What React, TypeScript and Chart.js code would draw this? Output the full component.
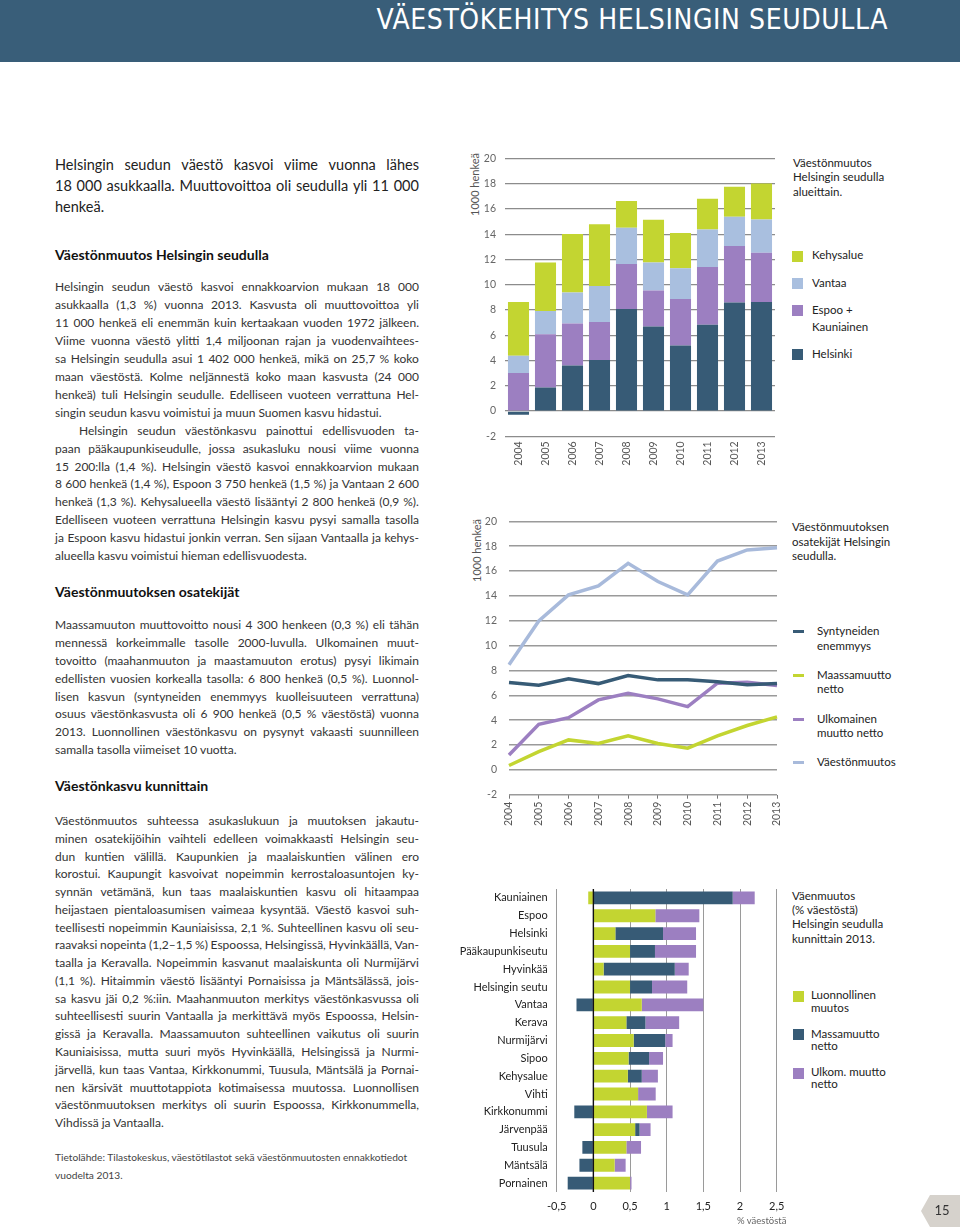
import React, { useEffect, useRef } from 'react';
import { Chart, registerables } from 'chart.js';

Chart.register(...registerables);

const FONT = 'Lato, "Open Sans", sans-serif';
const DARK = '#375b76';
const PURPLE = '#9c7fc1';
const LIGHTBLUE = '#a9bfdf';
const GREEN = '#c3d531';
const LINE_BLUE = '#a8badb';

// ---- Chart 1: Väestönmuutos Helsingin seudulla alueittain (1000 henkeä)
const years = ['2004', '2005', '2006', '2007', '2008', '2009', '2010', '2011', '2012', '2013'];
const helsinki = [-0.3, 1.87, 3.6, 4.03, 8.08, 6.68, 5.18, 6.82, 8.58, 8.63];
const espooKauniainen = [3.0, 4.21, 3.32, 3.02, 3.55, 2.85, 3.69, 4.57, 4.47, 3.9];
const vantaa = [1.37, 1.84, 2.45, 2.84, 2.87, 2.23, 2.42, 2.98, 2.32, 2.63];
const kehysalue = [4.26, 3.84, 4.63, 4.9, 2.13, 3.37, 2.79, 2.42, 2.37, 2.84];
const yTicks1 = { min: -2, max: 20, step: 2 };

// ---- Chart 2: Väestönmuutoksen osatekijät (1000 henkeä)
const syntyneidenEnemmyys = [7.02, 6.81, 7.32, 6.94, 7.59, 7.24, 7.24, 7.08, 6.84, 6.94];
const maassamuuttoNetto = [0.35, 1.47, 2.41, 2.12, 2.73, 2.12, 1.74, 2.73, 3.57, 4.26];
const ulkomainenMuuttoNetto = [1.2, 3.67, 4.2, 5.63, 6.17, 5.71, 5.09, 6.97, 7.05, 6.78];
const vaestonmuutos = [8.45, 11.98, 14.08, 14.8, 16.62, 15.15, 14.08, 16.8, 17.7, 17.88];

// ---- Chart 3: Väenmuutos (% väestöstä) kunnittain 2013
const municipalities = [
  'Kauniainen', 'Espoo', 'Helsinki', 'Pääkaupunkiseutu', 'Hyvinkää', 'Helsingin seutu',
  'Vantaa', 'Kerava', 'Nurmijärvi', 'Sipoo', 'Kehysalue', 'Vihti', 'Kirkkonummi',
  'Järvenpää', 'Tuusula', 'Mäntsälä', 'Pornainen',
];
const luonnollinenMuutos = [-0.07, 0.845, 0.3, 0.5, 0.14, 0.5, 0.66, 0.45, 0.55, 0.48, 0.47, 0.61, 0.73, 0.57, 0.45, 0.29, 0.5];
const massamuuttoNetto = [1.9, 0, 0.65, 0.34, 0.97, 0.3, -0.23, 0.26, 0.43, 0.28, 0.19, 0, -0.26, 0.06, -0.15, -0.19, -0.35];
const ulkomMuuttoNetto = [0.3, 0.6, 0.45, 0.56, 0.19, 0.48, 0.84, 0.46, 0.1, 0.19, 0.22, 0.24, 0.35, 0.15, 0.2, 0.15, 0.02];
const xTicks3 = { min: -0.5, max: 2.5, step: 0.5 };

// ---- Texts
type TLine = { t: string; j?: boolean; indent?: number };
const introLines: TLine[] = [
  { t: 'Helsingin seudun väestö kasvoi viime vuonna lähes', j: true },
  { t: '18 000 asukkaalla. Muuttovoittoa oli seudulla yli 11 000', j: true },
  { t: 'henkeä.' },
];
const para1Lines: TLine[] = [
  { t: 'Helsingin seudun väestö kasvoi ennakkoarvion mukaan 18 000', j: true },
  { t: 'asukkaalla (1,3 %) vuonna 2013. Kasvusta oli muuttovoittoa yli', j: true },
  { t: '11 000 henkeä eli enemmän kuin kertaakaan vuoden 1972 jälkeen.', j: true },
  { t: 'Viime vuonna väestö ylitti 1,4 miljoonan rajan ja vuodenvaihtees-', j: true },
  { t: 'sa Helsingin seudulla asui 1 402 000 henkeä, mikä on 25,7 % koko', j: true },
  { t: 'maan väestöstä.  Kolme neljännestä koko maan kasvusta (24 000', j: true },
  { t: 'henkeä) tuli Helsingin seudulle.  Edelliseen vuoteen verrattuna Hel-', j: true },
  { t: 'singin seudun kasvu voimistui ja muun Suomen kasvu hidastui.' },
  { t: 'Helsingin seudun väestönkasvu painottui edellisvuoden ta-', j: true, indent: 24 },
  { t: 'paan pääkaupunkiseudulle, jossa asukasluku nousi viime vuonna', j: true },
  { t: '15 200:lla (1,4 %). Helsingin väestö kasvoi ennakkoarvion mukaan', j: true },
  { t: '8 600 henkeä (1,4 %), Espoon 3 750 henkeä (1,5 %) ja Vantaan 2 600', j: true },
  { t: 'henkeä (1,3 %).  Kehysalueella väestö lisääntyi 2 800 henkeä (0,9 %).', j: true },
  { t: 'Edelliseen vuoteen verrattuna Helsingin kasvu pysyi samalla tasolla', j: true },
  { t: 'ja Espoon kasvu hidastui jonkin verran. Sen sijaan Vantaalla ja kehys-', j: true },
  { t: 'alueella kasvu voimistui hieman edellisvuodesta.' },
];
const para2Lines: TLine[] = [
  { t: 'Maassamuuton muuttovoitto nousi 4 300 henkeen (0,3 %) eli tähän', j: true },
  { t: 'mennessä korkeimmalle tasolle 2000-luvulla.  Ulkomainen muut-', j: true },
  { t: 'tovoitto (maahanmuuton ja maastamuuton erotus) pysyi likimain', j: true },
  { t: 'edellisten vuosien korkealla tasolla: 6 800 henkeä (0,5 %). Luonnol-', j: true },
  { t: 'lisen kasvun (syntyneiden enemmyys kuolleisuuteen verrattuna)', j: true },
  { t: 'osuus väestönkasvusta oli 6 900 henkeä (0,5 % väestöstä) vuonna', j: true },
  { t: '2013. Luonnollinen väestönkasvu on pysynyt vakaasti suunnilleen', j: true },
  { t: 'samalla tasolla viimeiset 10 vuotta.' },
];
const para3Lines: TLine[] = [
  { t: 'Väestönmuutos suhteessa asukaslukuun ja muutoksen jakautu-', j: true },
  { t: 'minen osatekijöihin vaihteli edelleen voimakkaasti Helsingin seu-', j: true },
  { t: 'dun kuntien välillä. Kaupunkien ja maalaiskuntien välinen ero', j: true },
  { t: 'korostui. Kaupungit kasvoivat nopeimmin kerrostaloasuntojen ky-', j: true },
  { t: 'synnän vetämänä, kun taas maalaiskuntien kasvu oli hitaampaa', j: true },
  { t: 'heijastaen pientaloasumisen vaimeaa kysyntää. Väestö kasvoi suh-', j: true },
  { t: 'teellisesti nopeimmin Kauniaisissa, 2,1 %. Suhteellinen kasvu oli seu-', j: true },
  { t: 'raavaksi nopeinta (1,2–1,5 %) Espoossa, Helsingissä, Hyvinkäällä, Van-', j: true },
  { t: 'taalla ja Keravalla. Nopeimmin kasvanut maalaiskunta oli Nurmijärvi', j: true },
  { t: '(1,1 %). Hitaimmin väestö lisääntyi Pornaisissa ja Mäntsälässä, jois-', j: true },
  { t: 'sa kasvu jäi 0,2 %:iin. Maahanmuuton merkitys väestönkasvussa oli', j: true },
  { t: 'suhteellisesti suurin Vantaalla ja merkittävä myös Espoossa, Helsin-', j: true },
  { t: 'gissä ja Keravalla. Maassamuuton suhteellinen vaikutus oli suurin', j: true },
  { t: 'Kauniaisissa, mutta suuri myös Hyvinkäällä, Helsingissä ja Nurmi-', j: true },
  { t: 'järvellä, kun taas Vantaa, Kirkkonummi, Tuusula, Mäntsälä ja Pornai-', j: true },
  { t: 'nen kärsivät muuttotappiota kotimaisessa muutossa. Luonnollisen', j: true },
  { t: 'väestönmuutoksen merkitys oli suurin Espoossa, Kirkkonummella,', j: true },
  { t: 'Vihdissä ja Vantaalla.' },
];
const sourceLines: TLine[] = [
  { t: 'Tietolähde: Tilastokeskus, väestötilastot sekä väestönmuutosten ennakkotiedot' },
  { t: 'vuodelta 2013.' },
];

// ---- helpers
function TextBlock(props: { x: number; y: number; w: number; lh: number; size: number; color: string; lines: TLine[]; weight?: number }) {
  const { x, y, w, lh, size, color, lines, weight } = props;
  return (
    <>
      {lines.map((ln, i) => {
        const indent = ln.indent || 0;
        const style: React.CSSProperties = {
          position: 'absolute',
          left: x + indent,
          top: y + i * lh - lh / 2,
          width: w - indent,
          height: lh,
          lineHeight: lh + 'px',
          fontSize: size,
          fontFamily: FONT,
          fontWeight: weight || 400,
          color,
          whiteSpace: 'nowrap',
        };
        if (ln.j) {
          const words = ln.t.split(' ').filter((s) => s.length > 0);
          return (
            <div key={i} style={{ ...style, display: 'flex', justifyContent: 'space-between' }}>
              {words.map((wd, k) => (
                <span key={k}>{wd}</span>
              ))}
            </div>
          );
        }
        return (
          <div key={i} style={style}>
            {ln.t}
          </div>
        );
      })}
    </>
  );
}

function Label(props: { x: number; y: number; text: string; size?: number; color?: string; weight?: number }) {
  const size = props.size || 11.5;
  return (
    <div
      style={{
        position: 'absolute',
        left: props.x,
        top: props.y - 8,
        height: 16,
        lineHeight: '16px',
        fontSize: size,
        fontFamily: FONT,
        color: props.color || '#222',
        fontWeight: props.weight || 400,
        whiteSpace: 'nowrap',
      }}
    >
      {props.text}
    </div>
  );
}

function Swatch(props: { x: number; y: number; color: string }) {
  return <div style={{ position: 'absolute', left: props.x, top: props.y - 5.5, width: 11, height: 11, background: props.color }} />;
}
function LineSwatch(props: { x: number; y: number; color: string }) {
  return <div style={{ position: 'absolute', left: props.x, top: props.y - 1.5, width: 11, height: 3, background: props.color }} />;
}

function VerticalTitle(props: { x: number; y: number; text: string }) {
  return (
    <div
      style={{
        position: 'absolute',
        left: props.x,
        top: props.y,
        writingMode: 'vertical-rl',
        transform: 'rotate(180deg)',
        fontSize: 11,
        fontFamily: FONT,
        color: '#555',
        whiteSpace: 'nowrap',
        lineHeight: '11px',
      }}
    >
      {props.text}
    </div>
  );
}

function ChartBox(props: { left: number; top: number; width: number; height: number; make: () => any }) {
  const ref = useRef<HTMLCanvasElement | null>(null);
  useEffect(() => {
    if (!ref.current) return;
    const chart = new Chart(ref.current, props.make());
    return () => chart.destroy();
  }, []);
  return (
    <div style={{ position: 'absolute', left: props.left, top: props.top, width: props.width, height: props.height }}>
      <canvas ref={ref} />
    </div>
  );
}

const tickFont = (size: number) => ({ family: FONT, size });

function zeroPad(s: any) {
  s.paddingTop = 0;
  s.paddingBottom = 0;
  s.paddingLeft = 0;
  s.paddingRight = 0;
}

function makeChart1() {
  return {
    type: 'bar',
    data: {
      labels: years,
      datasets: [
        { label: 'Helsinki', data: helsinki, backgroundColor: DARK },
        { label: 'Espoo + Kauniainen', data: espooKauniainen, backgroundColor: PURPLE },
        { label: 'Vantaa', data: vantaa, backgroundColor: LIGHTBLUE },
        { label: 'Kehysalue', data: kehysalue, backgroundColor: GREEN },
      ],
    },
    options: {
      animation: false,
      responsive: true,
      maintainAspectRatio: false,
      layout: { padding: { top: 10.3, right: 7, bottom: 0, left: 0 } },
      plugins: { legend: { display: false }, tooltip: { enabled: false } },
      datasets: { bar: { barPercentage: 0.78, categoryPercentage: 1 } },
      scales: {
        x: {
          stacked: true,
          grid: { display: false, drawTicks: false },
          border: { display: false },
          ticks: { maxRotation: 90, minRotation: 90, padding: 5, color: '#555', font: tickFont(10.5) },
          afterFit: (s: any) => {
            s.height = 41.7;
            zeroPad(s);
          },
        },
        y: {
          stacked: true,
          min: yTicks1.min,
          max: yTicks1.max,
          ticks: { stepSize: yTicks1.step, padding: 9, color: '#666', font: tickFont(10.5) },
          grid: { color: '#8c8c8c', lineWidth: 1.2, drawTicks: false },
          border: { display: false },
          afterFit: (s: any) => {
            s.width = 45;
            zeroPad(s);
          },
        },
      },
    },
  };
}

function makeChart2() {
  const ds = (label: string, data: number[], color: string) => ({
    label,
    data,
    borderColor: color,
    backgroundColor: color,
    borderWidth: 3.5,
    pointRadius: 0,
    tension: 0,
    fill: false,
  });
  return {
    type: 'line',
    data: {
      labels: years,
      datasets: [
        ds('Syntyneiden enemmyys', syntyneidenEnemmyys, DARK),
        ds('Ulkomainen muutto netto', ulkomainenMuuttoNetto, PURPLE),
        ds('Maassamuutto netto', maassamuuttoNetto, GREEN),
        ds('Väestönmuutos', vaestonmuutos, LINE_BLUE),
      ],
    },
    options: {
      animation: false,
      responsive: true,
      maintainAspectRatio: false,
      layout: { padding: { top: 10.3, right: 5, bottom: 0, left: 0 } },
      plugins: { legend: { display: false }, tooltip: { enabled: false } },
      scales: {
        x: {
          offset: false,
          grid: { display: true, drawOnChartArea: false, drawTicks: true, tickLength: 4, color: '#777', lineWidth: 1 },
          border: { display: false },
          ticks: { maxRotation: 90, minRotation: 90, padding: 3, color: '#555', font: tickFont(10.5) },
          afterFit: (s: any) => {
            s.height = 46.3;
            zeroPad(s);
          },
        },
        y: {
          min: yTicks1.min,
          max: yTicks1.max,
          ticks: { stepSize: yTicks1.step, padding: 12, color: '#666', font: tickFont(10.5) },
          grid: { color: '#9a9a9a', lineWidth: 1.4, drawTicks: false },
          border: { display: false },
          afterFit: (s: any) => {
            s.width = 49;
            zeroPad(s);
          },
        },
      },
    },
  };
}

const zeroLinePlugin = {
  id: 'zeroLine',
  afterDatasetsDraw(chart: any) {
    const x = chart.scales.x.getPixelForValue(0);
    const { top, bottom } = chart.chartArea;
    const ctx = chart.ctx;
    ctx.save();
    ctx.strokeStyle = '#111';
    ctx.lineWidth = 1.4;
    ctx.beginPath();
    ctx.moveTo(x, top);
    ctx.lineTo(x, bottom);
    ctx.stroke();
    ctx.restore();
  },
};

function makeChart3() {
  return {
    type: 'bar',
    data: {
      labels: municipalities,
      datasets: [
        { label: 'Luonnollinen muutos', data: luonnollinenMuutos, backgroundColor: GREEN },
        { label: 'Massamuutto netto', data: massamuuttoNetto, backgroundColor: DARK },
        { label: 'Ulkom. muutto netto', data: ulkomMuuttoNetto, backgroundColor: PURPLE },
      ],
    },
    plugins: [zeroLinePlugin],
    options: {
      indexAxis: 'y',
      animation: false,
      responsive: true,
      maintainAspectRatio: false,
      layout: { padding: { top: 9, right: 8.3, bottom: 0, left: 0 } },
      plugins: { legend: { display: false }, tooltip: { enabled: false } },
      datasets: { bar: { barPercentage: 0.72, categoryPercentage: 1 } },
      scales: {
        x: {
          stacked: true,
          min: xTicks3.min,
          max: xTicks3.max,
          ticks: {
            stepSize: xTicks3.step,
            padding: 8,
            color: '#222',
            font: tickFont(11),
            callback: (v: any) => String(v).replace('.', ','),
          },
          grid: { color: '#9a9a9a', lineWidth: 1, drawTicks: false },
          border: { display: false },
          afterFit: (s: any) => {
            s.height = 28;
            zeroPad(s);
          },
        },
        y: {
          stacked: true,
          grid: { display: false, drawTicks: false },
          border: { display: false },
          ticks: { padding: 9, color: '#222', font: tickFont(11), autoSkip: false },
          afterFit: (s: any) => {
            s.width = 116.7;
            zeroPad(s);
          },
        },
      },
    },
  };
}

export default function App() {
  return (
    <div style={{ position: 'absolute', left: 0, top: 0, width: 960, height: 1227, background: '#fff', overflow: 'hidden' }}>
      {/* header band */}
      <div style={{ position: 'absolute', left: 0, top: 0, width: 960, height: 62, background: '#395e79' }} />
      <div
        style={{
          position: 'absolute',
          right: 72,
          top: 3,
          height: 34,
          lineHeight: '34px',
          fontSize: 28,
          fontFamily: '"DejaVu Sans Condensed", "DejaVu Sans", sans-serif',
          fontStretch: 'condensed',
          color: '#fff',
          whiteSpace: 'nowrap',
          letterSpacing: 0.6,
        }}
      >
        VÄESTÖKEHITYS HELSINGIN SEUDULLA
      </div>

      {/* left text column */}
      <TextBlock x={55} y={164} w={364} lh={21} size={14.5} color="#222" lines={introLines} />
      <Label x={55} y={255} text="Väestönmuutos Helsingin seudulla" size={14} weight={700} color="#111" />
      <TextBlock x={55} y={287} w={364} lh={17.95} size={12} color="#333" lines={para1Lines} />
      <Label x={55} y={592} text="Väestönmuutoksen osatekijät" size={14} weight={700} color="#111" />
      <TextBlock x={55} y={625} w={364} lh={17.86} size={12} color="#333" lines={para2Lines} />
      <Label x={55} y={786} text="Väestönkasvu kunnittain" size={14} weight={700} color="#111" />
      <TextBlock x={55} y={821} w={364} lh={17.76} size={12} color="#333" lines={para3Lines} />
      <TextBlock x={55} y={1157} w={364} lh={18} size={10.2} color="#444" lines={sourceLines} />

      {/* chart 1 */}
      <VerticalTitle x={469} y={153} text="1000 henkeä" />
      <ChartBox left={460} top={148} width={322} height={330} make={makeChart1} />
      <Label x={793} y={163} text="Väestönmuutos" />
      <Label x={793} y={177} text="Helsingin seudulla" />
      <Label x={793} y={192} text="alueittain." />
      <Swatch x={792} y={256} color={GREEN} />
      <Label x={812} y={255} text="Kehysalue" />
      <Swatch x={792} y={283} color={LIGHTBLUE} />
      <Label x={812} y={283} text="Vantaa" />
      <Swatch x={792} y={310} color={PURPLE} />
      <Label x={812} y={310} text="Espoo +" />
      <Label x={812} y={327} text="Kauniainen" />
      <Swatch x={792} y={354} color={DARK} />
      <Label x={812} y={354} text="Helsinki" />

      {/* chart 2 */}
      <VerticalTitle x={471} y={519} text="1000 henkeä" />
      <ChartBox left={460} top={511} width={322} height={330} make={makeChart2} />
      <Label x={792} y={527} text="Väestönmuutoksen" />
      <Label x={792} y={542} text="osatekijät Helsingin" />
      <Label x={792} y={556} text="seudulla." />
      <LineSwatch x={793} y={631} color={DARK} />
      <Label x={817} y={631} text="Syntyneiden" />
      <Label x={817} y={646} text="enemmyys" />
      <LineSwatch x={793} y={675} color={GREEN} />
      <Label x={817} y={675} text="Maassamuutto" />
      <Label x={817} y={689} text="netto" />
      <LineSwatch x={793} y={719} color={PURPLE} />
      <Label x={817} y={719} text="Ulkomainen" />
      <Label x={817} y={733} text="muutto netto" />
      <LineSwatch x={793} y={762} color={LINE_BLUE} />
      <Label x={817} y={762} text="Väestönmuutos" />

      {/* chart 3 */}
      <ChartBox left={440} top={880} width={345} height={340} make={makeChart3} />
      <Label x={737} y={1221} text="% väestöstä" size={9.5} color="#666" />
      <Label x={792} y={896} text="Väenmuutos" />
      <Label x={792} y={910} text="(% väestöstä)" />
      <Label x={792} y={924} text="Helsingin seudulla" />
      <Label x={792} y={939} text="kunnittain 2013." />
      <Swatch x={793} y={996} color={GREEN} />
      <Label x={811} y={995} text="Luonnollinen" />
      <Label x={811} y={1008} text="muutos" />
      <Swatch x={793} y={1034} color={DARK} />
      <Label x={811} y={1034} text="Massamuutto" />
      <Label x={811} y={1046} text="netto" />
      <Swatch x={793} y={1073} color={PURPLE} />
      <Label x={811} y={1072} text="Ulkom. muutto" />
      <Label x={811} y={1084} text="netto" />

      {/* page number tag */}
      <div
        style={{
          position: 'absolute',
          left: 921,
          top: 1195,
          width: 39,
          height: 32,
          background: '#d6d2cc',
          clipPath: 'polygon(9px 0, 100% 0, 100% 100%, 9px 100%, 0 50%)',
        }}
      />
      <div style={{ position: 'absolute', left: 930, top: 1202, width: 24, textAlign: 'center', fontFamily: FONT, fontSize: 13, color: '#333', lineHeight: '16px' }}>
        15
      </div>
    </div>
  );
}
